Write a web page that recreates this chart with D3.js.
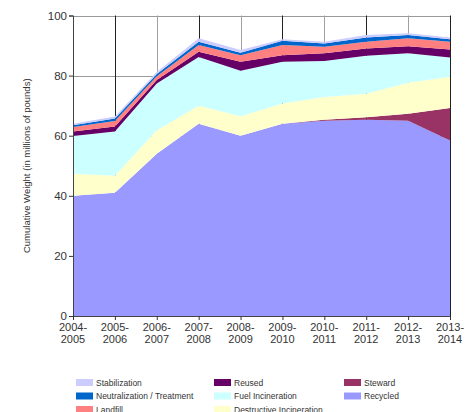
<!DOCTYPE html>
<html>
<head>
<meta charset="utf-8">
<script src="https://cdn.jsdelivr.net/npm/d3@7"></script>
<style>
  body { margin: 0; background: #fff; }
  svg { display: block; font-family: "Liberation Sans", Arial, sans-serif; }
</style>
</head>
<body>
<div id="chart"></div>
<script>
const years = ['2004-2005', '2005-2006', '2006-2007', '2007-2008', '2008-2009',
  '2009-2010', '2010-2011', '2011-2012', '2012-2013', '2013-2014'];

// stacked bottom to top
const recycled      = [40, 41, 54, 64, 60, 64, 65, 65.3, 65, 58.4];
const steward       = [0, 0, 0, 0, 0, 0, 0.3, 0.8, 2.3, 10.8];
const destructive   = [7.3, 5.7, 7.8, 6, 6.5, 6.7, 7.6, 7.9, 10.3, 10.4];
const fuel          = [12.6, 14.7, 15.6, 16.2, 15.1, 13.9, 12, 12.6, 9.8, 6.4];
const reused        = [1.5, 1.7, 1.1, 1.7, 3, 2.2, 2.5, 2.4, 2.4, 2.7];
const landfill      = [1.5, 1.8, 1.3, 2.3, 2.2, 3.4, 2.2, 2.3, 2.6, 2.6];
const neutralization = [0.6, 0.8, 0.7, 1.1, 0.8, 1.4, 1.1, 1.4, 1.1, 0.8];
const stabilization = [0.5, 0.7, 0.7, 1.1, 0.9, 0.5, 0.6, 0.8, 0.6, 0.6];

const yTicks = [0, 20, 40, 60, 80, 100];

const series = [
  { key: 'Recycled', values: recycled, color: '#9999ff' },
  { key: 'Steward', values: steward, color: '#993366' },
  { key: 'Destructive Incineration', values: destructive, color: '#ffffcc' },
  { key: 'Fuel Incineration', values: fuel, color: '#ccffff' },
  { key: 'Reused', values: reused, color: '#660066' },
  { key: 'Landfill', values: landfill, color: '#ff8080' },
  { key: 'Neutralization / Treatment', values: neutralization, color: '#0066cc' },
  { key: 'Stabilization', values: stabilization, color: '#ccccff' }
];

// legend reading order (column by column)
const legendOrder = ['Stabilization', 'Neutralization / Treatment', 'Landfill',
  'Reused', 'Fuel Incineration', 'Destructive Incineration',
  'Steward', 'Recycled'];

const width = 474, height = 412;
const margin = { left: 73, right: 24, top: 15.5, bottom: 96 };

const svg = d3.select('#chart').append('svg')
  .attr('width', width)
  .attr('height', height);

const table = years.map((yr, i) => {
  const row = { year: yr };
  series.forEach(s => { row[s.key] = s.values[i]; });
  return row;
});

const stack = d3.stack().keys(series.map(s => s.key));
const layers = stack(table);

const x = d3.scalePoint()
  .domain(years)
  .range([margin.left, width - margin.right]);

const y = d3.scaleLinear()
  .domain([0, 100])
  .range([height - margin.bottom, margin.top]);

// grid
const grid = svg.append('g');
grid.selectAll('line.h')
  .data(yTicks)
  .join('line')
  .attr('x1', margin.left).attr('x2', width - margin.right)
  .attr('y1', d => Math.round(y(d)) + 0.5).attr('y2', d => Math.round(y(d)) + 0.5)
  .attr('stroke', '#9a9a9a');
grid.selectAll('line.v')
  .data(years)
  .join('line')
  .attr('x1', d => Math.round(x(d)) + 0.5).attr('x2', d => Math.round(x(d)) + 0.5)
  .attr('y1', y(100)).attr('y2', y(0))
  .attr('stroke', (d, i) => i % 2 ? '#222' : '#a0a0a0');

const area = d3.area()
  .x(d => x(d.data.year))
  .y0(d => y(d[0]))
  .y1(d => y(d[1]));

svg.append('g')
  .selectAll('path')
  .data(layers)
  .join('path')
  .attr('d', area)
  .attr('fill', (d, i) => series[i].color);

// axes
const yAxis = svg.append('g')
  .attr('transform', `translate(${margin.left},0)`)
  .call(d3.axisLeft(y).tickValues(yTicks).tickSize(4).tickPadding(2));
const xAxis = svg.append('g')
  .attr('transform', `translate(0,${y(0)})`)
  .call(d3.axisBottom(x).tickSize(4).tickFormat(''));

[yAxis, xAxis].forEach(g => {
  g.select('.domain').attr('stroke', '#444');
  g.selectAll('.tick line').attr('stroke', '#333');
});
yAxis.selectAll('.tick text')
  .attr('font-size', 11.5)
  .attr('fill', '#333');

const xl = svg.append('g')
  .selectAll('text')
  .data(years)
  .join('text')
  .attr('x', d => x(d))
  .attr('y', y(0) + 15)
  .attr('text-anchor', 'middle')
  .attr('font-size', 11)
  .attr('fill', '#333');
xl.append('tspan').attr('x', d => x(d)).text(d => d.split('-')[0] + '-');
xl.append('tspan').attr('x', d => x(d)).attr('dy', 12).text(d => d.split('-')[1]);

// y title
svg.append('text')
  .attr('transform', `translate(30,${(y(0) + y(100)) / 2}) rotate(-90)`)
  .attr('text-anchor', 'middle')
  .attr('font-size', 9.5)
  .attr('fill', '#333')
  .text('Cumulative Weight (in millions of pounds)');

// legend
const colX = [76, 214, 344];
const rowY = [382.5, 396, 409.5];
const legend = svg.append('g')
  .selectAll('g')
  .data(legendOrder)
  .join('g')
  .attr('transform', (d, i) => `translate(${colX[Math.floor(i / 3)]},${rowY[i % 3]})`);
legend.append('rect')
  .attr('x', 0).attr('y', -3.5)
  .attr('width', 17).attr('height', 7)
  .attr('fill', d => series.find(s => s.key === d).color);
legend.append('text')
  .attr('x', 20).attr('y', 3)
  .attr('font-size', 8.5)
  .attr('fill', '#333')
  .text(d => d);
</script>
</body>
</html>
